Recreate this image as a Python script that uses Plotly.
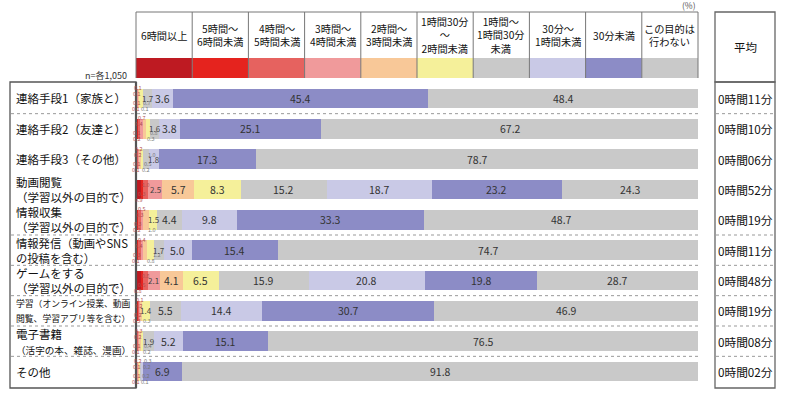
import plotly.graph_objects as go

rows = ["連絡手段1（家族と）", "連絡手段2（友達と）", "連絡手段3（その他）",
        "動画閲覧<br>（学習以外の目的で）", "情報収集<br>（学習以外の目的で）",
        "情報発信（動画やSNS<br>の投稿を含む）", "ゲームをする<br>（学習以外の目的で）",
        "学習（オンライン授業、動画<br>閲覧、学習アプリ等を含む）",
        "電子書籍<br>（活字の本、雑誌、漫画）", "その他"]
row_keys = ["r%d" % i for i in range(len(rows))]
averages = ["0時間11分", "0時間10分", "0時間06分", "0時間52分", "0時間19分",
            "0時間11分", "0時間48分", "0時間19分", "0時間08分", "0時間02分"]

series_names = ["6時間以上", "5時間～6時間未満", "4時間～5時間未満", "3時間～4時間未満",
                "2時間～3時間未満", "1時間30分～2時間未満", "1時間～1時間30分未満",
                "30分～1時間未満", "30分未満", "この目的は行わない"]
header_labels = ["6時間以上", "5時間～<br>6時間未満", "4時間～<br>5時間未満", "3時間～<br>4時間未満",
                 "2時間～<br>3時間未満", "1時間30分<br>～<br>2時間未満", "1時間～<br>1時間30分<br>未満",
                 "30分～<br>1時間未満", "30分未満", "この目的は<br>行わない"]
colors = ["#BE1A22", "#E5231E", "#E6625F", "#F09A9B", "#F8C898", "#F5F09A",
          "#C9C9C9", "#C9C9E6", "#8C8CC6", "#C9C9C9"]

s_6h   = [0.1, 0.2, 0.1, 0.9, 0.2, 0.1, 0.8, 0.3, 0.1, 0.1]
s_5h   = [0.1, 0.1, 0.1, 0.3, 0.3, 0.3, 0.5, 0.2, 0.1, 0.1]
s_4h   = [0.1, 0.4, 0.2, 1.0, 0.3, 0.4, 0.8, 0.2, 0.2, 0.1]
s_3h   = [0.1, 0.7, 0.2, 2.5, 0.5, 0.4, 2.1, 0.1, 0.3, 0.2]
s_2h   = [0.1, 0.3, 0.2, 5.7, 1.0, 0.8, 4.1, 0.3, 0.2, 0.1]
s_90m  = [0.7, 0.8, 0.5, 8.3, 1.5, 1.2, 6.5, 1.4, 0.4, 0.2]
s_60m  = [1.7, 1.6, 1.0, 15.2, 4.4, 1.7, 15.9, 5.5, 1.9, 0.2]
s_30m  = [3.6, 3.8, 1.8, 18.7, 9.8, 5.0, 20.8, 14.4, 5.2, 0.3]
s_lt30 = [45.4, 25.1, 17.3, 23.2, 33.3, 15.4, 19.8, 30.7, 15.1, 6.9]
s_none = [48.4, 67.2, 78.7, 24.3, 48.7, 74.7, 28.7, 46.9, 76.5, 91.8]
series = [s_6h, s_5h, s_4h, s_3h, s_2h, s_90m, s_60m, s_30m, s_lt30, s_none]

W, H = 800, 400
def px(x): return x / W
def py(y): return 1 - y / H

X0, X1 = 136, 698
Y0, Y1 = 82, 388
FONT = "Noto Sans CJK JP"

fig = go.Figure()
for name, vals, col in zip(series_names, series, colors):
    fig.add_trace(go.Bar(y=row_keys, x=vals, name=name, orientation="h",
                         marker=dict(color=col, line=dict(width=0)),
                         hoverinfo="x+name"))

ann = []
def A(**kw):
    kw.setdefault("showarrow", False)
    kw.setdefault("xanchor", "center")
    kw.setdefault("yanchor", "middle")
    ann.append(kw)

# value labels
offs = [-10.5, -4.5, 4.5, 10.5]
for ri, key in enumerate(row_keys):
    cum = 0.0
    k = 0
    for si, vals in enumerate(series):
        v = vals[ri]
        mid = cum + v / 2
        if v >= 3:
            A(x=mid, y=key, xref="x", yref="y", text="%.1f" % v,
              font=dict(size=10.5, color="#333", family=FONT))
        elif v >= 1.4:
            A(x=mid, y=key, xref="x", yref="y", text="%.1f" % v,
              font=dict(size=8, color="#444", family=FONT))
        else:
            A(x=mid, y=key, xref="x", yref="y", text="%.1f" % v,
              yshift=offs[k % 4], xshift=(k // 4) * 6,
              font=dict(size=5.5, color="#B05050" if si < 4 else "#777", family=FONT))
            k += 1
        cum += v

# row labels (per-line font sizes so long lines fit the label box) and averages
line_sizes = [[11.5], [11.5], [11.5], [11.5, 11.5], [11.5, 11.5], [11.3, 11.3],
              [11.5, 11.5], [8.8, 8.8], [11.5, 9.6], [11.5]]
for ri, key in enumerate(row_keys):
    parts = rows[ri].split("<br>")
    txt = "<br>".join('<span style="font-size:%.1fpx">%s</span>' % (s, p)
                      for p, s in zip(parts, line_sizes[ri]))
    A(x=px(14), y=key, xref="paper", yref="y", text=txt, xanchor="left", align="left",
      font=dict(size=11.5, color="#111", family=FONT))
    A(x=px(745.5), y=key, xref="paper", yref="y", text=averages[ri],
      font=dict(size=11.7, color="#111", family=FONT))

# header
colw = (X1 - X0) / len(header_labels)
shapes = []
for i, (lab, col) in enumerate(zip(header_labels, colors)):
    cx = X0 + colw * (i + 0.5)
    A(x=px(cx), y=py(35), xref="paper", yref="paper", text=lab,
      font=dict(size=10.2, color="#111", family=FONT))
    shapes.append(dict(type="rect", xref="paper", yref="paper",
                       x0=px(X0 + colw * i), x1=px(X0 + colw * (i + 1)), y0=py(78), y1=py(58),
                       fillcolor=col, line=dict(width=0), layer="below"))
for i in range(len(header_labels) + 1):
    xx = X0 + colw * i
    shapes.append(dict(type="line", xref="paper", yref="paper", x0=px(xx), x1=px(xx),
                       y0=py(12), y1=py(78), line=dict(color="#777", width=1)))
shapes.append(dict(type="line", xref="paper", yref="paper", x0=px(X0), x1=px(X1),
                   y0=py(12), y1=py(12), line=dict(color="#777", width=1)))

A(x=px(745.5), y=py(47), xref="paper", yref="paper", text="平均",
  font=dict(size=11.5, color="#111", family=FONT))
A(x=px(698), y=py(5), xref="paper", yref="paper", text="(%)", xanchor="right",
  font=dict(size=8.5, color="#555", family=FONT))
A(x=px(129), y=py(75), xref="paper", yref="paper", text="n=各1,050", xanchor="right",
  font=dict(size=9, color="#333", family=FONT))

# boxes
shapes.append(dict(type="rect", xref="paper", yref="paper", x0=px(10), x1=px(X0), y0=py(Y1), y1=py(Y0),
                   line=dict(color="#555", width=1.3)))
shapes.append(dict(type="line", xref="paper", yref="paper", x0=px(X0), x1=px(X0), y0=py(Y1), y1=py(Y0),
                   line=dict(color="#555", width=2.2)))
shapes.append(dict(type="rect", xref="paper", yref="paper", x0=px(715), x1=px(775), y0=py(82), y1=py(12),
                   line=dict(color="#666", width=1.3)))
shapes.append(dict(type="rect", xref="paper", yref="paper", x0=px(715), x1=px(775), y0=py(Y1), y1=py(Y0),
                   line=dict(color="#666", width=1.3)))

# dotted separators (after rows 1,5,6,7,8,9)
for b in [0, 4, 5, 6, 7, 8]:
    yb = b + 0.5
    shapes.append(dict(type="line", xref="paper", yref="y", x0=px(11), x1=px(X1), y0=yb, y1=yb,
                       line=dict(color="#999", width=1, dash="dot")))
    shapes.append(dict(type="line", xref="paper", yref="y", x0=px(716), x1=px(774), y0=yb, y1=yb,
                       line=dict(color="#999", width=1, dash="dot")))

fig.update_layout(
    width=W, height=H, barmode="stack", bargap=0.35, showlegend=False,
    margin=dict(l=0, r=0, t=0, b=0),
    paper_bgcolor="white", plot_bgcolor="white",
    xaxis=dict(range=[0, 100], domain=[px(X0), px(X1)], visible=False, fixedrange=True),
    yaxis=dict(categoryorder="array", categoryarray=row_keys, autorange="reversed",
               domain=[py(Y1), py(Y0)], visible=False, fixedrange=True),
    annotations=ann, shapes=shapes,
    font=dict(family=FONT),
)
fig.write_html("out.html", config={"displayModeBar": False},
               post_script="document.body.style.margin='0px';")
